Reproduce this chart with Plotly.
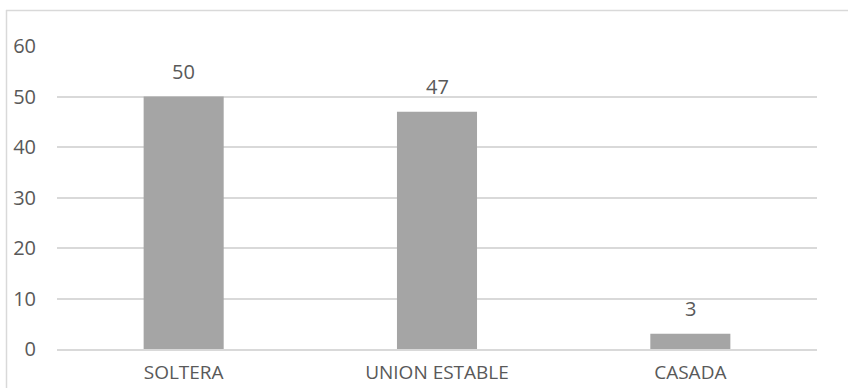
import plotly.graph_objects as go

categories = ["SOLTERA", "UNION ESTABLE", "CASADA"]
values = [50, 47, 3]
y_ticks = [0, 10, 20, 30, 40, 50, 60]

W, H = 848, 388
L, R, T, B = 57, 31, 46, 39
pw, ph = W - L - R, H - T - B

text_color = "#595959"
grid_color = "#d9d9d9"
bar_color = "#a5a5a5"
font_family = "Open Sans, Lato, Liberation Sans, sans-serif"

fig = go.Figure(
    go.Bar(
        x=categories,
        y=values,
        marker=dict(color=bar_color, line=dict(width=0)),
        hoverinfo="skip",
    )
)

# value labels above each bar
for c, v in zip(categories, values):
    fig.add_annotation(
        x=c, y=v, text=str(v), showarrow=False,
        yanchor="bottom", yshift=10,
        font=dict(family=font_family, size=20, color=text_color),
    )

# outer frame of the chart area (top and left edges)
def px_to_paper_x(px):
    return (px - L) / pw

def px_to_paper_y(py):
    return (H - B - py) / ph

fig.add_shape(type="line", xref="paper", yref="paper",
              x0=px_to_paper_x(6), x1=px_to_paper_x(W + 2),
              y0=px_to_paper_y(10.5), y1=px_to_paper_y(10.5),
              line=dict(color=grid_color, width=1.5))
fig.add_shape(type="line", xref="paper", yref="paper",
              x0=px_to_paper_x(6.5), x1=px_to_paper_x(6.5),
              y0=px_to_paper_y(10), y1=px_to_paper_y(H + 2),
              line=dict(color=grid_color, width=1.5))

fig.update_layout(
    template="none",
    width=W, height=H,
    margin=dict(l=L, r=R, t=T, b=B, pad=0),
    paper_bgcolor="white", plot_bgcolor="white",
    bargap=0.684,
    showlegend=False,
    font=dict(family=font_family, size=20, color=text_color),
    xaxis=dict(
        automargin=False,
        showgrid=False, showline=True, linecolor=grid_color, linewidth=1.5,
        ticks="", ticklabelstandoff=5,
        tickfont=dict(family=font_family, size=19, color=text_color),
        fixedrange=True,
    ),
    yaxis=dict(
        automargin=False,
        range=[0, 60], tickvals=y_ticks,
        showgrid=True, gridcolor=grid_color, gridwidth=1.5,
        zeroline=False, showline=False, ticks="",
        ticklabelstandoff=20,
        tickfont=dict(family=font_family, size=20, color=text_color),
        fixedrange=True,
    ),
)

fig.write_html("out.html")
